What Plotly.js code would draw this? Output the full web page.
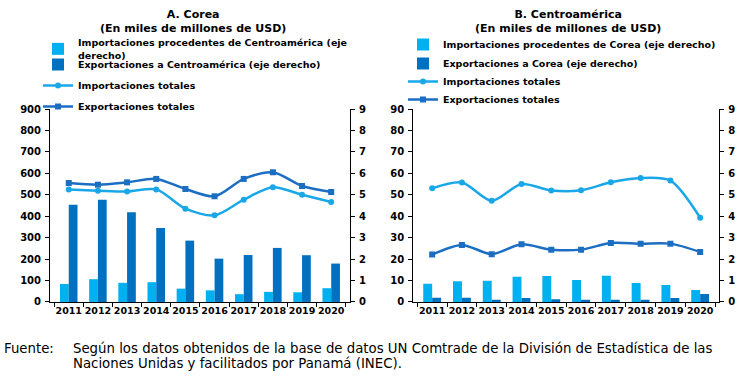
<!DOCTYPE html>
<html>
<head>
<meta charset="utf-8">
<script src="https://cdn.plot.ly/plotly-3.0.1.min.js"></script>
<style>html,body{margin:0;padding:0;background:#fff;}#chart{width:743px;height:376px;}</style>
</head>
<body>
<div id="chart"></div>
<script>
// ---- Data ----
var years = ['2011','2012','2013','2014','2015','2016','2017','2018','2019','2020'];

// A. Corea (miles de millones de USD)
var coreaImpTot = [524, 519, 515, 525, 435, 404, 477, 535, 500, 466];
var coreaExpTot = [555, 547, 558, 574, 527, 493, 574, 605, 541, 513];
var coreaImpDesdeCA = [0.84, 1.06, 0.89, 0.92, 0.62, 0.54, 0.36, 0.47, 0.45, 0.64];
var coreaExpACA = [4.54, 4.77, 4.18, 3.45, 2.86, 2.02, 2.19, 2.52, 2.18, 1.79];

// B. Centroamérica (miles de millones de USD)
var caImpTot = [53.0, 55.7, 47.2, 55.0, 52.0, 52.1, 55.8, 57.8, 56.6, 39.3];
var caExpTot = [22.1, 26.6, 22.3, 26.9, 24.4, 24.4, 27.5, 27.2, 27.2, 23.3];
var caImpDesdeCorea = [0.85, 0.97, 0.99, 1.18, 1.21, 1.02, 1.22, 0.88, 0.79, 0.56];
var caExpACorea = [0.20, 0.20, 0.10, 0.18, 0.12, 0.10, 0.10, 0.10, 0.18, 0.37];

var leftTicks = [0,100,200,300,400,500,600,700,800,900];
var rightTicks = [0,1,2,3,4,5,6,7,8,9];
var leftTicksB = [0,10,20,30,40,50,60,70,80,90];

// ---- Styles ----
var LIGHT = '#00B0F0', DARK = '#0070C0';
var LLINE = '#1AA7E8', DLINE = '#1B6EC2';
var FONT = 'DejaVu Sans, Verdana, sans-serif';
var yTickFont = {family: FONT, size: 10, color: '#000', weight: 'bold'};
var xTickFont = {family: FONT, size: 9.5, color: '#000', weight: 'bold'};

var traces = [
  {type:'bar', x:years, y:coreaImpDesdeCA, xaxis:'x', yaxis:'y', marker:{color:LIGHT},
   name:'<b>Importaciones procedentes de Centroamérica (eje<br>derecho)</b>', legend:'legend'},
  {type:'bar', x:years, y:coreaExpACA, xaxis:'x', yaxis:'y', marker:{color:DARK},
   name:'<b>Exportaciones a Centroamérica (eje derecho)</b>', legend:'legend3'},
  {type:'scatter', mode:'lines+markers', x:years, y:coreaImpTot, xaxis:'x', yaxis:'y2',
   line:{color:LLINE, width:2.5, shape:'spline', smoothing:0.8}, marker:{symbol:'circle', size:6, color:LLINE},
   name:'<b>Importaciones totales</b>', legend:'legend4'},
  {type:'scatter', mode:'lines+markers', x:years, y:coreaExpTot, xaxis:'x', yaxis:'y2',
   line:{color:DLINE, width:2.5, shape:'spline', smoothing:0.8}, marker:{symbol:'square', size:6, color:DLINE},
   name:'<b>Exportaciones totales</b>', legend:'legend5'},

  {type:'bar', x:years, y:caImpDesdeCorea, xaxis:'x2', yaxis:'y3', marker:{color:LIGHT},
   name:'<b>Importaciones procedentes de Corea (eje derecho)</b>', legend:'legend2'},
  {type:'bar', x:years, y:caExpACorea, xaxis:'x2', yaxis:'y3', marker:{color:DARK},
   name:'<b>Exportaciones a Corea (eje derecho)</b>', legend:'legend6'},
  {type:'scatter', mode:'lines+markers', x:years, y:caImpTot, xaxis:'x2', yaxis:'y4',
   line:{color:LLINE, width:2.5, shape:'spline', smoothing:0.8}, marker:{symbol:'circle', size:6, color:LLINE},
   name:'<b>Importaciones totales</b>', legend:'legend7'},
  {type:'scatter', mode:'lines+markers', x:years, y:caExpTot, xaxis:'x2', yaxis:'y4',
   line:{color:DLINE, width:2.5, shape:'spline', smoothing:0.8}, marker:{symbol:'square', size:6, color:DLINE},
   name:'<b>Exportaciones totales</b>', legend:'legend8'}
];

function xAx(domain, anchor){
  return {domain:domain, anchor:anchor, type:'category', showline:true, linecolor:'#000', linewidth:1,
    ticks:'outside', ticklen:4, tickcolor:'#000', tickson:'boundaries', showgrid:false, zeroline:false,
    tickfont:xTickFont, tickangle:0, fixedrange:true};
}
function yAx(anchor, range, vals, side, overlay){
  var a = {domain:[0.197,0.71], anchor:anchor, range:range, tickvals:vals, ticktext:vals.map(String), side:side,
    showline:true, linecolor:'#000', linewidth:1, ticks:'outside', ticklen:4, tickcolor:'#000',
    showgrid:false, zeroline:false, tickfont:yTickFont, ticklabelstandoff:2, fixedrange:true};
  if (overlay) a.overlaying = overlay;
  return a;
}

var legendFont = {family: FONT, size: 9.5, color: '#000'};
function leg(xpx, toppx){
  return {x:xpx/743, y:1-toppx/376, xanchor:'left', yanchor:'top', font:legendFont,
    bgcolor:'rgba(0,0,0,0)', itemwidth:30};
}
var FOOT = {family:'DejaVu Sans, sans-serif', size:13.3, color:'#000'};
var layout = {
  width:743, height:376,
  margin:{l:0, r:0, t:0, b:0},
  paper_bgcolor:'#fff', plot_bgcolor:'rgba(0,0,0,0)',
  showlegend:true,
  barmode:'group', bargap:0.4, bargroupgap:0,
  xaxis: xAx([0.0673,0.471], 'y'),
  yaxis: yAx('x', [0,9], rightTicks, 'right'),
  yaxis2: yAx('x', [0,900], leftTicks, 'left', 'y'),
  xaxis2: xAx([0.556,0.968], 'y3'),
  yaxis3: yAx('x2', [0,9], rightTicks, 'right'),
  yaxis4: yAx('x2', [0,90], leftTicksB, 'left', 'y3'),
  legend: leg(38, 30),
  legend3: leg(38, 50),
  legend4: leg(38, 71),
  legend5: leg(38, 92),
  legend2: leg(403, 30),
  legend6: leg(403, 49),
  legend7: leg(403, 67),
  legend8: leg(403, 85),
  annotations:[
    {text:'<b>A. Corea</b><br><b>(En miles de millones de USD)</b>', xref:'paper', yref:'paper',
     x:0.26, y:0.984, xanchor:'center', yanchor:'top', showarrow:false, font:{family:FONT, size:11, color:'#000'}},
    {text:'<b>B. Centroamérica</b><br><b>(En miles de millones de USD)</b>', xref:'paper', yref:'paper',
     x:0.765, y:0.984, xanchor:'center', yanchor:'top', showarrow:false, font:{family:FONT, size:11, color:'#000'}},
    {text:'Fuente:', xref:'paper', yref:'paper', x:2/743, y:1-348/376, xanchor:'left', yanchor:'middle',
     showarrow:false, font:FOOT},
    {text:'Según los datos obtenidos de la base de datos UN Comtrade de la División de Estadística de las',
     xref:'paper', yref:'paper', x:71/743, y:1-348/376, xanchor:'left', yanchor:'middle', align:'left',
     showarrow:false, font:FOOT},
    {text:'Naciones Unidas y facilitados por Panamá (INEC).',
     xref:'paper', yref:'paper', x:71/743, y:1-363/376, xanchor:'left', yanchor:'middle', align:'left',
     showarrow:false, font:FOOT}
  ]
};

Plotly.newPlot('chart', traces, layout, {displayModeBar:false, staticPlot:true});
</script>
</body>
</html>
